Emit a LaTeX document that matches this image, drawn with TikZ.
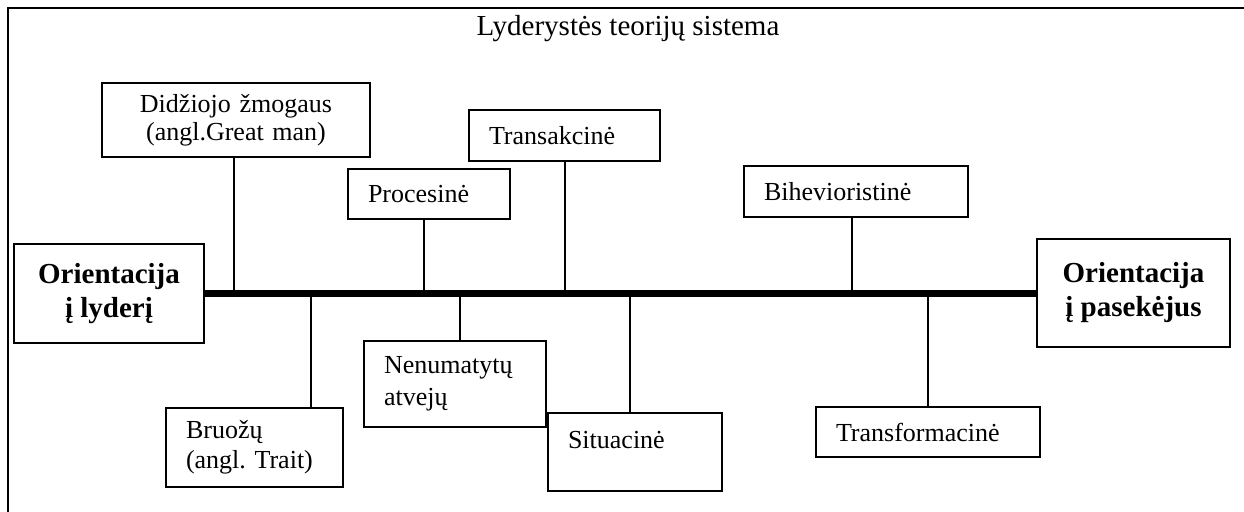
\documentclass[tikz,border=0pt]{standalone}
\usepackage{fontspec}
\setmainfont{Liberation Serif}
\usepackage{tikz}
\frenchspacing

\begin{document}
\begin{tikzpicture}[x=0.5pt,y=-0.5pt,
  teorija/.style={draw,line width=1pt,anchor=north west,inner xsep=10pt,inner ysep=0pt,align=left,font=\fontsize{13}{15}\selectfont},
  orientacija/.style={draw,line width=1pt,anchor=north west,inner sep=0pt,align=center,font=\fontsize{14.5}{17}\selectfont\bfseries},
  jungtis/.style={line width=1pt}]
\useasboundingbox (0,0) rectangle (1244,512);
\draw[line width=0.75pt] (8,512) -- (8,8) -- (1244,8);
\node[anchor=base,font=\fontsize{14.5}{17}\selectfont] (pavadinimas) at (628,36) {Lyderystės teorijų sistema};
\node[orientacija,minimum width=95pt,minimum height=49.5pt] (lyder) at (13,243) {Orientacija\\į lyderį};
\node[orientacija,minimum width=96.5pt,minimum height=54pt] (pasek) at (1036,238) {Orientacija\\į pasekėjus};
\draw[line width=3.5pt] (lyder.east) -- (pasek.west |- lyder.east);
\node[teorija,align=center,text width=114pt,minimum height=37pt,font=\fontsize{13}{14}\selectfont] (didz) at (101,82) {Didžiojo žmogaus\\(angl.Great man)};
\node[teorija,text width=61pt,minimum height=25pt] (proc) at (347,168) {Procesinė};
\node[teorija,text width=75.5pt,minimum height=25.5pt] (trans) at (468,109) {Transakcinė};
\node[teorija,text width=92pt,minimum height=25.5pt] (bihev) at (743,165) {Bihevioristinė};
\node[teorija,text width=68.5pt,minimum height=39.5pt] (bruoz) at (165,407) {Bruožų\\(angl. Trait)};
\node[teorija,text width=71pt,minimum height=43pt,font=\fontsize{13}{16}\selectfont] (nenum) at (363,340) {Nenumatytų\\atvejų};
\node[teorija,text width=67pt,inner ysep=2pt,text height=16pt,text depth=19pt] (situac) at (547,412) {Situacinė};
\node[teorija,text width=92pt,minimum height=25pt] (transf) at (815,406) {Transformacinė};
\foreach \n/\dx in {didz/-1pt,proc/-2.5pt,trans/0pt,bihev/-2pt}
  \draw[jungtis] ([xshift=\dx]\n.south) -- ([xshift=\dx]\n.south |- lyder.east);
\foreach \n/\dx in {bruoz/28pt,nenum/2.5pt,situac/-2.5pt,transf/0pt}
  \draw[jungtis] ([xshift=\dx]\n.north) -- ([xshift=\dx]\n.north |- lyder.east);
\end{tikzpicture}
\end{document}
